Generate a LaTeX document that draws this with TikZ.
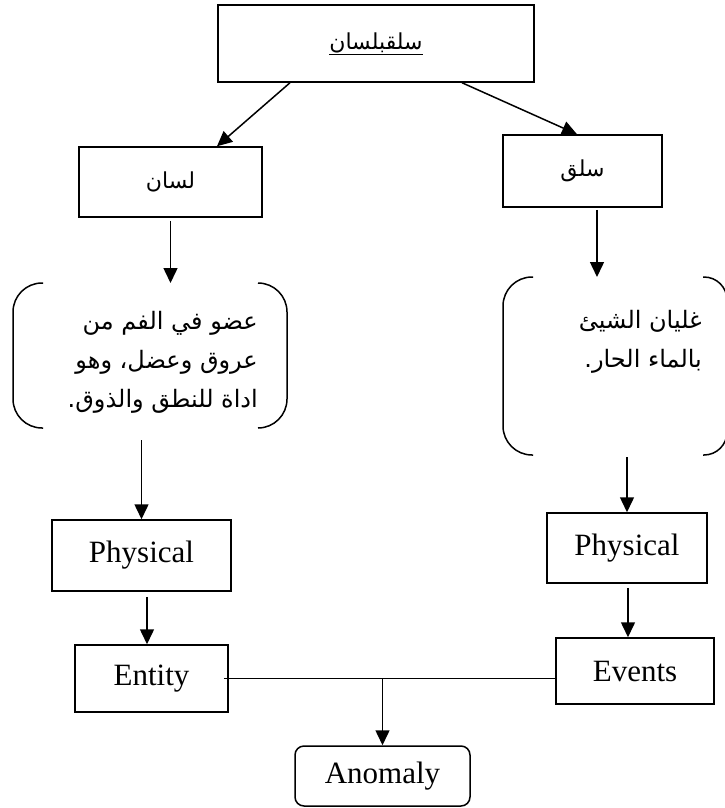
\documentclass[tikz,border=0pt]{standalone}
\usepackage{fontspec}
\setmainfont{Liberation Serif}
\newfontfamily\arabicfont[Script=Arabic]{DejaVu Sans}
\TeXXeTstate=1
\usetikzlibrary{arrows.meta,calc}

\tikzset{
  lw/.style={line width=1.5pt},
  latinbox/.style={draw, lw, rectangle, inner sep=0pt,
    font=\fontsize{31}{36}\selectfont},
  arabicbox/.style={draw, lw, rectangle, inner sep=0pt,
    font=\arabicfont\fontsize{22}{26}\selectfont},
  deftext/.style={inner sep=0pt, align=right,
    font=\arabicfont\fontsize{24}{39}\selectfont},
  frame/.style={inner sep=0pt, outer sep=0pt},
  bracket/.style={draw, lw},
  link/.style={draw, lw, -{Triangle[width=14pt,length=15pt]}},
}

\begin{document}
\begin{tikzpicture}[x=1pt, y=-1pt]
\useasboundingbox (0,0) rectangle (724,808);

% root term
\node[arabicbox, minimum width=316pt, minimum height=77pt] (root) at (376,43.5)
  {\underline{\beginR سلقبلسان\endR}};

% the two parts
\node[arabicbox, minimum width=183pt, minimum height=70pt] (lisan) at (170.5,182)
  {\beginR لسان\endR};
\node[arabicbox, minimum width=159pt, minimum height=72pt] (salq) at (582.5,171)
  {\beginR سلق\endR};

% definition frames
\node[frame, minimum width=274pt, minimum height=145pt] (defL) at (150,355.5) {};
\node[frame, minimum width=224pt, minimum height=178pt] (defR) at (615,366) {};

\node[deftext, anchor=east] (defLtxt) at (258,362)
  {\beginR عضو في الفم من\endR\\
   \beginR عروق وعضل، وهو\endR\\
   \beginR اداة للنطق والذوق.\endR};
\node[deftext, anchor=east] (defRtxt) at (702,342)
  {\beginR غليان الشيئ\endR\\
   \beginR بالماء الحار.\endR};

% brackets around the definitions
\draw[bracket, rounded corners=29pt]
  ([xshift=30pt]defL.north west) -- (defL.north west) -- (defL.south west) -- ([xshift=30pt]defL.south west);
\draw[bracket, rounded corners=29pt]
  ([xshift=-29pt]defL.north east) -- (defL.north east) -- (defL.south east) -- ([xshift=-29pt]defL.south east);
\draw[bracket, rounded corners=29pt]
  ([xshift=30pt]defR.north west) -- (defR.north west) -- (defR.south west) -- ([xshift=30pt]defR.south west);
\draw[bracket, rounded corners=23pt]
  ([xshift=-24pt]defR.north east) -- (defR.north east) -- (defR.south east) -- ([xshift=-24pt]defR.south east);

% categories
\node[latinbox, minimum width=179pt, minimum height=71pt] (physL) at (141.5,555.5) {Physical};
\node[latinbox, minimum width=160pt, minimum height=70pt] (physR) at (627,548) {Physical};
\node[latinbox, minimum width=153pt, minimum height=67pt] (entity) at (151.5,678.5) {Entity};
\node[latinbox, minimum width=158pt, minimum height=66pt] (events) at (635,671) {Events};
\node[latinbox, rounded corners=9pt, minimum width=175pt, minimum height=60pt] (anomaly) at (382.5,776) {Anomaly};

% connectors
\draw[link] ([xshift=-86pt]root.south) -- ([xshift=46.5pt]lisan.north);
\draw[link] ([xshift=86pt]root.south) -- ([xshift=-5.5pt]salq.north);

\draw[link, shorten <=3pt] (lisan.south) -- (lisan.south |- defL.north);
\draw[link, shorten <=2pt] ([xshift=14.5pt]salq.south) -- ([xshift=14.5pt]salq.south |- defR.north);

\draw[link, shorten <=12pt] (physL.north |- defL.south) -- (physL.north);
\draw[link, shorten <=2pt] (physR.north |- defR.south) -- (physR.north);

\draw[link, shorten <=5pt] ([xshift=5.5pt]physL.south) -- ([xshift=5.5pt]physL.south |- entity.north);
\draw[link, shorten <=4pt] ([xshift=1pt]physR.south) -- ([xshift=1pt]physR.south |- events.north);

% joining line and result
\coordinate (joinL) at ([xshift=-5pt]entity.east);
\coordinate (joinM) at (anomaly.north |- entity.east);
\draw[lw] (joinL) -- (entity.east -| events.west);
\draw[link] (joinM) -- (anomaly.north);
\end{tikzpicture}
\end{document}
